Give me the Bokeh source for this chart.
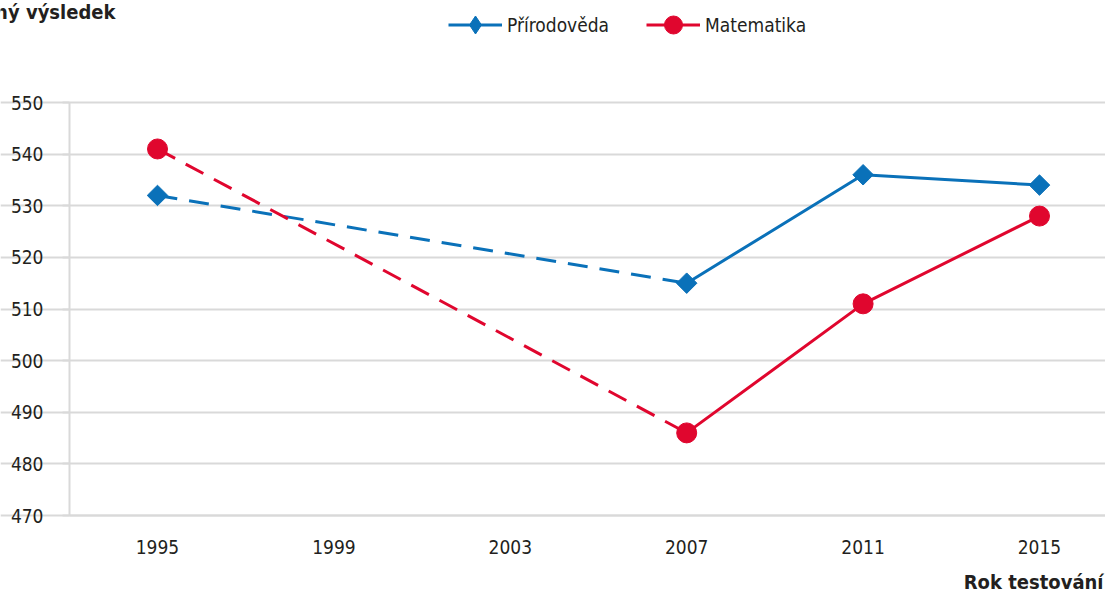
import math
from bokeh.plotting import figure
from bokeh.models import Legend, LegendItem, Label, FixedTicker, Range1d
from bokeh.embed import file_html
from bokeh.resources import INLINE

# ---- data ----
years = [1995, 2007, 2011, 2015]
prirodoveda = [532, 515, 536, 534]
matematika = [541, 486, 511, 528]
tick_years = [1995, 1999, 2003, 2007, 2011, 2015]
tick_labels = ["1995", "1999", "2003", "2007", "2011", "2015"]
y_ticks = [470, 480, 490, 500, 510, 520, 530, 540, 550]
series_names = ["Přírodověda", "Matematika"]
y_title = "Průměrný výsledek"
x_title = "Rok testování"

FONT = "'Liberation Sans Narrow', 'DejaVu Sans Condensed', 'Roboto Condensed', sans-serif"
BLUE = "#0a71b9"
RED = "#e0062e"
GRID = "#d9d9d9"
TXT = "#231f20"

W, H = 1105, 593
# pixel layout of the plotting area (frame covers whole canvas, axes are fixed inside)
PX_PER_YEAR = 44.1
PX_PER_UNIT = 5.1625
X0_PIX, Y550_PIX = 157, 102
x_start = 1995 - X0_PIX / PX_PER_YEAR
x_end = 1995 + (W - X0_PIX) / PX_PER_YEAR
y_end = 550 + Y550_PIX / PX_PER_UNIT
y_start = 550 - (H - Y550_PIX) / PX_PER_UNIT
x_axis_pos = 1995 + (69 - X0_PIX) / PX_PER_YEAR

p = figure(width=W, height=H, output_backend="svg", toolbar_location=None,
           x_range=Range1d(x_start, x_end), y_range=Range1d(y_start, y_end),
           min_border=0)
p.outline_line_color = None
p.xgrid.grid_line_color = None
p.ygrid.grid_line_color = GRID
p.ygrid.grid_line_width = 2
p.ygrid.ticker = FixedTicker(ticks=y_ticks)
p.ygrid.bounds = (x_axis_pos, x_end)

p.xaxis.fixed_location = 470
p.xaxis.bounds = (x_axis_pos, x_end)
p.xaxis.ticker = FixedTicker(ticks=tick_years)
p.xaxis.major_label_overrides = {y: l for y, l in zip(tick_years, tick_labels)}
p.xaxis.major_tick_line_color = None
p.xaxis.minor_tick_line_color = None
p.xaxis.major_tick_in = 0
p.xaxis.major_tick_out = 0
p.xaxis.axis_line_color = GRID
p.xaxis.axis_line_width = 2
p.xaxis.major_label_standoff = 24

p.yaxis.fixed_location = x_axis_pos
p.yaxis.bounds = (470, 550)
p.yaxis.ticker = FixedTicker(ticks=y_ticks)
p.yaxis.axis_line_color = GRID
p.yaxis.axis_line_width = 2
p.yaxis.major_tick_line_color = GRID
p.yaxis.major_tick_line_width = 2
p.yaxis.major_tick_in = 0
p.yaxis.major_tick_out = 7
p.yaxis.minor_tick_line_color = None
p.yaxis.major_label_standoff = 19

for ax in (p.xaxis, p.yaxis):
    ax.major_label_text_font = FONT
    ax.major_label_text_font_size = "19px"
    ax.major_label_text_color = TXT

items = []
for name, vals, color, marker in [(series_names[0], prirodoveda, BLUE, "square"),
                                   (series_names[1], matematika, RED, "circle")]:
    p.line(years[:2], vals[:2], line_color=color, line_width=3, line_dash="20 12")
    solid = p.line(years[1:], vals[1:], line_color=color, line_width=3)
    if marker == "square":
        # narrow diamond (hidden under the rotated square) used for the legend glyph
        sc = p.scatter(years, vals, marker="diamond", size=16,
                       fill_color=color, line_color=color)
        p.scatter(years, vals, marker="square", size=14.5, angle=math.pi / 4,
                  fill_color=color, line_color=color)
    else:
        sc = p.scatter(years, vals, marker="circle", size=20,
                       fill_color=color, line_color=color)
    items.append(LegendItem(label=name, renderers=[solid, sc]))

legend = Legend(items=items, orientation="horizontal", location=(448, 546),
                glyph_width=54, glyph_height=45, label_standoff=5, spacing=37,
                padding=0, margin=0, border_line_color=None, background_fill_alpha=0,
                label_text_font=FONT, label_text_font_size="19px", label_text_color=TXT)
p.add_layout(legend, "center")

p.add_layout(Label(x=1995 + (115 - X0_PIX) / PX_PER_YEAR,
                   y=550 + (Y550_PIX - 11) / PX_PER_UNIT,
                   text=y_title, text_align="right",
                   text_baseline="alphabetic", text_font=FONT, text_font_size="20px",
                   text_font_style="bold", text_color=TXT))
p.add_layout(Label(x=1995 + (1103 - X0_PIX) / PX_PER_YEAR,
                   y=550 - (581 - Y550_PIX) / PX_PER_UNIT,
                   text=x_title, text_align="right",
                   text_baseline="alphabetic", text_font=FONT, text_font_size="20px",
                   text_font_style="bold", text_color=TXT))

open("out.html", "w").write(file_html(p, INLINE))
